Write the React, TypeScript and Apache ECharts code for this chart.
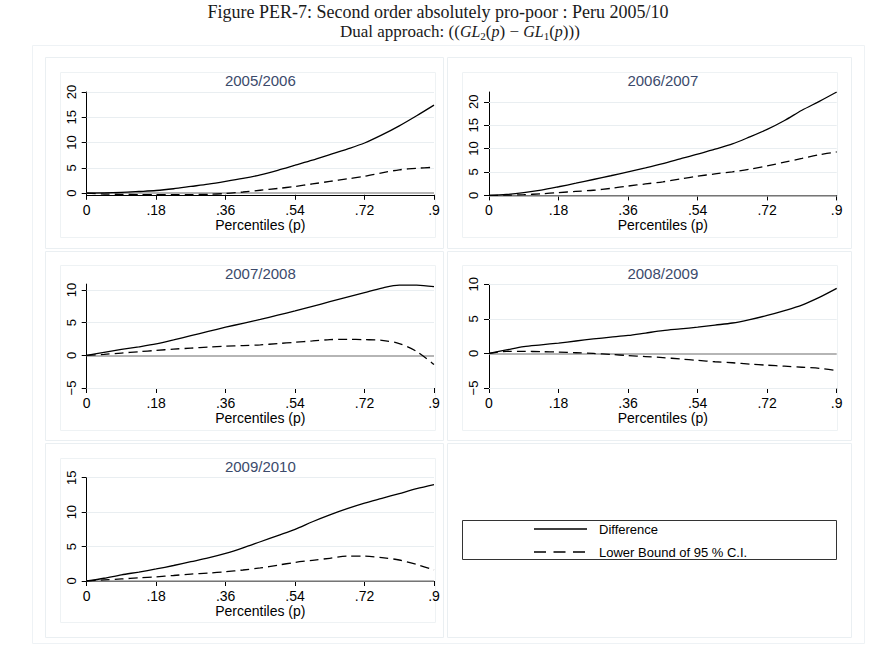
import React, { useEffect, useRef } from "react";
import * as echarts from "echarts";

// ---- data ----
const percentiles = [0, 0.045, 0.09, 0.135, 0.18, 0.225, 0.27, 0.315, 0.36, 0.405, 0.45, 0.495, 0.54, 0.585, 0.63, 0.675, 0.72, 0.765, 0.81, 0.855, 0.9];
const xTicks = [0, 0.18, 0.36, 0.54, 0.72, 0.9];

const panelTitles = ["2005/2006", "2006/2007", "2007/2008", "2008/2009", "2009/2010"];
const seriesNames = ["Difference", "Lower Bound of 95 % C.I."];

const diff0506 = [0, 0.02, 0.12, 0.3, 0.5, 0.85, 1.3, 1.75, 2.3, 2.9, 3.6, 4.5, 5.5, 6.5, 7.6, 8.7, 9.9, 11.5, 13.3, 15.3, 17.4];
const lower0506 = [0, -0.2, -0.25, -0.3, -0.3, -0.3, -0.3, -0.25, -0.1, 0.2, 0.55, 0.9, 1.3, 1.8, 2.3, 2.8, 3.3, 4.0, 4.6, 4.9, 5.1];
const diff0607 = [0, 0.2, 0.6, 1.15, 1.85, 2.6, 3.4, 4.2, 5.05, 5.9, 6.8, 7.8, 8.8, 9.9, 11.0, 12.5, 14.1, 16.0, 18.2, 20.1, 22.1];
const lower0607 = [0, 0.05, 0.15, 0.35, 0.6, 0.85, 1.1, 1.5, 2.0, 2.45, 2.9, 3.5, 4.1, 4.6, 5.05, 5.6, 6.3, 7.1, 7.9, 8.7, 9.3];
const diff0708 = [0, 0.45, 0.9, 1.3, 1.75, 2.35, 3.0, 3.65, 4.3, 4.9, 5.5, 6.15, 6.8, 7.5, 8.2, 8.9, 9.6, 10.3, 10.75, 10.75, 10.5];
const lower0708 = [0, 0.15, 0.35, 0.55, 0.75, 0.95, 1.1, 1.25, 1.4, 1.5, 1.6, 1.8, 2.0, 2.2, 2.4, 2.45, 2.4, 2.3, 1.8, 0.6, -1.4];
const diff0809 = [0, 0.5, 1.0, 1.25, 1.5, 1.8, 2.1, 2.35, 2.6, 2.95, 3.3, 3.55, 3.8, 4.1, 4.4, 4.9, 5.5, 6.2, 7.0, 8.1, 9.4];
const lower0809 = [0, 0.3, 0.3, 0.25, 0.2, 0.1, 0, -0.15, -0.3, -0.45, -0.6, -0.8, -1.0, -1.2, -1.35, -1.55, -1.7, -1.85, -2.0, -2.15, -2.5];
const diff0910 = [0, 0.4, 0.9, 1.3, 1.75, 2.25, 2.8, 3.35, 4.0, 4.8, 5.7, 6.6, 7.5, 8.6, 9.6, 10.5, 11.3, 12.0, 12.7, 13.4, 14.0];
const lower0910 = [0, 0.15, 0.3, 0.45, 0.6, 0.8, 1.0, 1.15, 1.35, 1.6, 1.9, 2.3, 2.7, 3.0, 3.3, 3.6, 3.6, 3.4, 3.05, 2.4, 1.6];

const yTicks0506 = [0, 5, 10, 15, 20];
const yTicks0607 = [0, 5, 10, 15, 20];
const yTicks0708 = [-5, 0, 5, 10];
const yTicks0809 = [-5, 0, 5, 10];
const yTicks0910 = [0, 5, 10, 15];

const yRange0506 = [-0.35, 20];
const yRange0607 = [0, 22.1];
const yRange0708 = [-5, 10.9];
const yRange0809 = [-5, 10];
const yRange0910 = [0, 15];

// ---- layout ----
const SANS = '"Liberation Sans", Arial, sans-serif';
const SERIF = '"Liberation Serif", "Times New Roman", serif';

const panels = [
  { title: panelTitles[0], diff: diff0506, lower: lower0506, ticks: yTicks0506, range: yRange0506, grid: { left: 86.7, top: 92, width: 347.3, height: 102.8 } },
  { title: panelTitles[1], diff: diff0607, lower: lower0607, ticks: yTicks0607, range: yRange0607, grid: { left: 489, top: 92, width: 347.7, height: 103.4 } },
  { title: panelTitles[2], diff: diff0708, lower: lower0708, ticks: yTicks0708, range: yRange0708, grid: { left: 86.7, top: 284.1, width: 347.3, height: 103.9 } },
  { title: panelTitles[3], diff: diff0809, lower: lower0809, ticks: yTicks0809, range: yRange0809, grid: { left: 489, top: 284.3, width: 347.7, height: 103.7 } },
  { title: panelTitles[4], diff: diff0910, lower: lower0910, ticks: yTicks0910, range: yRange0910, grid: { left: 86.7, top: 477.7, width: 347.3, height: 103.3 } },
];
const titleY = [80, 80, 273, 273, 466];

const fmtX = (v: number) => {
  if (Math.abs(v) < 1e-9) return "0";
  return String(Math.round(v * 100) / 100).replace(/^0/, "");
};
const fmtY = (v: number) => (v < 0 ? "\u2212" + Math.abs(v) : String(v));

function buildOption() {
  const grid: any[] = [];
  const xAxis: any[] = [];
  const yAxis: any[] = [];
  const series: any[] = [];
  const graphic: any[] = [];

  // faint frames
  const frame = (x: number, y: number, w: number, h: number, c: string) => ({
    type: "rect", silent: true, z: -10,
    shape: { x, y, width: w, height: h },
    style: { fill: "none", stroke: c, lineWidth: 1 },
  });
  graphic.push(frame(32.5, 45.5, 832, 598, "#eef2f5"));
  const colX = [[45.5, 398], [447.5, 404]];
  const rowY = [[57.5, 191], [251.5, 189], [443.5, 194]];
  const plotX = [[60.5, 375], [462.5, 375]];
  const plotY = [[72.5, 165], [265.5, 165], [458.5, 164]];
  for (let r = 0; r < 3; r++) {
    for (let c = 0; c < 2; c++) {
      graphic.push(frame(colX[c][0], rowY[r][0], colX[c][1], rowY[r][1], "#eaeff2"));
      if (!(r === 2 && c === 1)) graphic.push(frame(plotX[c][0], plotY[r][0], plotX[c][1], plotY[r][1], "#eef2f4"));
    }
  }

  panels.forEach((p, i) => {
    grid.push({ ...p.grid, containLabel: false });
    xAxis.push({
      gridIndex: i, type: "value", min: 0, max: 0.9,
      axisLine: { show: true, onZero: false, lineStyle: { color: "#000", width: 1 } },
      axisTick: { show: true, length: 5, customValues: xTicks, lineStyle: { color: "#000", width: 1 } },
      axisLabel: { customValues: xTicks, formatter: fmtX, fontSize: 14, color: "#000", fontFamily: SANS, margin: 8, showMinLabel: true, showMaxLabel: true, hideOverlap: false },
      splitLine: { show: false },
      name: "Percentiles (p)", nameLocation: "middle", nameGap: 23,
      nameTextStyle: { fontSize: 14, color: "#000", fontFamily: SANS },
    });
    yAxis.push({
      gridIndex: i, type: "value", min: p.range[0], max: p.range[1],
      axisLine: { show: true, onZero: false, lineStyle: { color: "#000", width: 1 } },
      axisTick: { show: true, length: 5, customValues: p.ticks, lineStyle: { color: "#000", width: 1 } },
      axisLabel: { customValues: p.ticks, formatter: fmtY, rotate: 90, fontSize: 13, color: "#000", fontFamily: SANS, margin: 9, showMinLabel: true, showMaxLabel: true, hideOverlap: false },
      splitLine: { show: false },
    });
    const gridLines = p.ticks.filter((t) => t !== 0).map((t) => ({ yAxis: t, lineStyle: { color: "#e9eef1", width: 1, type: "solid" } }));
    series.push({
      type: "line", name: seriesNames[0], xAxisIndex: i, yAxisIndex: i,
      data: percentiles.map((x, j) => [x, p.diff[j]]),
      showSymbol: false, smooth: 0.3, z: 10,
      lineStyle: { color: "#000", width: 1.3, type: "solid" },
      markLine: {
        silent: true, symbol: ["none", "none"], label: { show: false }, animation: false,
        data: [...gridLines, { yAxis: 0, lineStyle: { color: "#9c9c9c", width: 1.5, type: "solid" } }],
      },
    });
    series.push({
      type: "line", name: seriesNames[1], xAxisIndex: i, yAxisIndex: i,
      data: percentiles.map((x, j) => [x, p.lower[j]]),
      showSymbol: false, smooth: 0.3, z: 10,
      lineStyle: { color: "#000", width: 1.3, type: [9, 5] },
    });
    const cx = p.grid.left + p.grid.width / 2;
    graphic.push({
      type: "text", x: cx, y: titleY[i], silent: true,
      style: { text: p.title, font: `15px ${SANS}`, fill: "#3b4a6b", align: "center", verticalAlign: "middle", textAlign: "center", textVerticalAlign: "middle" },
    });
  });

  // legend
  graphic.push({ type: "rect", silent: true, shape: { x: 462.5, y: 520.5, width: 374, height: 39 }, style: { fill: "#fff", stroke: "#333", lineWidth: 1 } });
  graphic.push({ type: "line", silent: true, shape: { x1: 534, y1: 529, x2: 587, y2: 529 }, style: { stroke: "#000", lineWidth: 1.3 } });
  graphic.push({ type: "line", silent: true, shape: { x1: 534, y1: 552, x2: 587, y2: 552 }, style: { stroke: "#000", lineWidth: 1.3, lineDash: [12, 7.5] } });
  graphic.push({ type: "text", silent: true, x: 599, y: 529, style: { text: seriesNames[0], font: `13px ${SANS}`, fill: "#000", align: "left", verticalAlign: "middle", textAlign: "left", textVerticalAlign: "middle" } });
  graphic.push({ type: "text", silent: true, x: 599, y: 552, style: { text: seriesNames[1], font: `13px ${SANS}`, fill: "#000", align: "left", verticalAlign: "middle", textAlign: "left", textVerticalAlign: "middle" } });

  const titleStyle = { fontFamily: SERIF, fontSize: 18, fontWeight: "normal", color: "#1a1a1a" };
  return {
    animation: false,
    backgroundColor: "#fff",
    title: [
      { text: "Figure PER-7: Second order absolutely pro-poor : Peru 2005/10", left: "center", top: 3, padding: 0, textStyle: titleStyle },
      {
        text: "{n|Dual approach: ((}{i|GL}{s|2}{n|(}{i|p}{n|) \u2212 }{i|GL}{s|1}{n|(}{i|p}{n|)))}",
        left: 340, top: 21, padding: 0,
        textStyle: {
          ...titleStyle,
          rich: {
            n: { fontFamily: SERIF, fontSize: 17, color: "#1a1a1a", lineHeight: 20 },
            i: { fontFamily: SERIF, fontSize: 16, fontStyle: "italic", color: "#1a1a1a", lineHeight: 20 },
            s: { fontFamily: SERIF, fontSize: 11, color: "#1a1a1a", verticalAlign: "bottom", lineHeight: 12 },
          },
        },
      },
    ],
    grid, xAxis, yAxis, series, graphic,
  };
}

export default function App() {
  const ref = useRef<HTMLDivElement>(null);
  useEffect(() => {
    if (!ref.current) return;
    const chart = echarts.init(ref.current, null, { renderer: "svg" });
    chart.setOption(buildOption() as any);
    return () => chart.dispose();
  }, []);
  return <div ref={ref} style={{ position: "absolute", left: 0, top: 0, width: 876, height: 647 }} />;
}
